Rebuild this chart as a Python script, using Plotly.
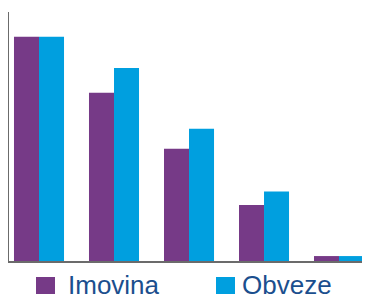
import plotly.graph_objects as go

categories = ["A", "B", "C", "D", "E"]
imovina = [100, 75, 50, 25, 2.2]
obveze = [100, 86, 59, 31, 2.2]
series_names = ["Imovina", "Obveze"]
colors = ["#763a87", "#009fdf"]

fig = go.Figure()
x_idx = list(range(len(categories)))
fig.add_trace(go.Bar(x=x_idx, y=imovina, name=series_names[0], marker=dict(color=colors[0], line=dict(width=0))))
fig.add_trace(go.Bar(x=x_idx, y=obveze, name=series_names[1], marker=dict(color=colors[1], line=dict(width=0))))

# page body has an 8px margin, so the figure is drawn 8px smaller
fig.update_layout(
    width=362, height=286,
    margin=dict(l=1, r=0, t=4, b=33),
    paper_bgcolor="white", plot_bgcolor="white",
    barmode="group", bargap=0.333, bargroupgap=0,
    showlegend=False,
    xaxis=dict(range=[-0.40, 4.413], showticklabels=False, ticks="", showgrid=False, zeroline=False,
               showline=True, linecolor="#6b6b6b", linewidth=2),
    yaxis=dict(range=[0, 111], showticklabels=False, ticks="", showgrid=False, zeroline=False,
               showline=True, linecolor="#6b6b6b", linewidth=2),
)

# custom legend (screen pixel positions converted to paper coords; plot area x 9..370, y 12..261)
legend_font = dict(family="Liberation Sans, Arial, sans-serif", size=26, color="#1b4f8e")
sq_x = [36, 216]
text_x = [66, 240]
for name, col, x0, tx in zip(series_names, colors, sq_x, text_x):
    fig.add_shape(type="rect", xref="paper", yref="paper",
                  x0=(x0 - 9) / 361, x1=(x0 + 19 - 9) / 361,
                  y0=-(294 - 261) / 249, y1=-(277 - 261) / 249,
                  fillcolor=col, line=dict(width=0))
    fig.add_annotation(xref="paper", yref="paper", x=(tx - 9) / 361, y=-(285 - 261) / 249,
                       xanchor="left", yanchor="middle", text=name, showarrow=False, font=legend_font)

fig.write_html("out.html")
